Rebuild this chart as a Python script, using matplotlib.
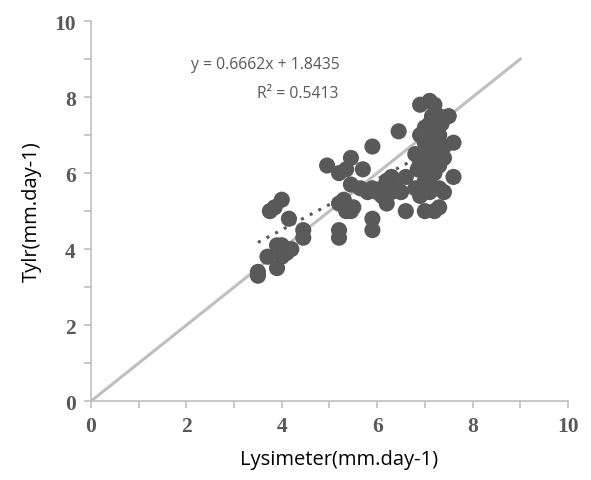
import matplotlib.pyplot as plt
from matplotlib.ticker import MultipleLocator

# lysimeter vs Tylr (mm/day)
lys = [3.5, 3.5, 3.7, 3.9, 3.9, 4.0, 4.1, 4.2, 4.0, 4.1, 3.75, 3.85, 4.0, 4.15, 4.45, 4.45,
       5.2, 5.2, 5.9, 5.9, 4.95, 5.2, 5.45, 5.35, 5.7, 5.45, 5.3, 5.2, 5.5, 5.45, 5.35, 5.9,
       5.65, 5.8, 5.9, 6.0, 6.1, 6.2, 6.3, 6.3, 6.2, 6.1, 6.4, 6.5, 6.6, 6.6, 6.45,
       6.9, 7.1, 7.2, 7.3, 6.9, 7.0, 7.1, 7.2, 7.3, 7.5, 7.0, 7.1, 7.2, 7.3, 7.4, 7.6,
       6.8, 6.9, 7.0, 7.3, 7.4, 7.0, 7.1, 7.2, 7.3, 7.1, 6.8, 6.9, 7.0, 7.3, 7.2, 7.6,
       7.4, 7.05, 6.85, 7.25, 7.15, 7.35, 7.0, 7.2]
tylr = [3.3, 3.4, 3.8, 3.5, 4.1, 3.8, 4.0, 4.0, 4.1, 3.9, 5.0, 5.1, 5.3, 4.8, 4.5, 4.3,
        4.5, 4.3, 4.8, 4.5, 6.2, 6.0, 6.4, 6.1, 6.1, 5.7, 5.3, 5.2, 5.1, 5.0, 5.0, 6.7,
        5.6, 5.5, 5.6, 5.5, 5.6, 5.8, 5.9, 5.5, 5.2, 5.4, 5.6, 5.5, 5.9, 5.0, 7.1,
        7.8, 7.9, 7.8, 7.5, 7.0, 7.2, 7.3, 7.2, 7.0, 7.5, 6.8, 6.6, 6.5, 6.8, 6.7, 6.8,
        6.5, 6.3, 6.2, 6.2, 6.4, 5.8, 5.9, 6.0, 5.6, 5.5, 5.6, 5.4, 5.0, 5.1, 5.0, 5.9,
        5.5, 5.7, 6.1, 7.0, 7.5, 7.3, 6.5, 6.9]

slope = 0.6662
intercept = 1.8435
r2 = 0.5413
one_to_one = [0, 9]

grey = '#595959'
light = '#BFBFBF'

fig = plt.figure(figsize=(5.91, 4.81), dpi=100)
ax = fig.add_axes([0.154, 0.164, 0.807, 0.79])

ax.plot(one_to_one, one_to_one, color=light, lw=2.2, zorder=1)
ax.scatter(lys, tylr, s=135, color=grey, edgecolors='none', zorder=2)

xs = [min(lys), max(lys)]
ax.plot(xs, [slope * v + intercept for v in xs], color=grey, lw=2.2,
        ls=(0, (1, 2.2)), zorder=3)

ax.text(3.65, 8.87, 'y = %.4fx + %.4f' % (slope, intercept), ha='center', va='center',
        color=grey, fontsize=11.3, family='Open Sans')
ax.text(4.33, 8.1, 'R² = %.4f' % r2, ha='center', va='center',
        color=grey, fontsize=11.3, family='Open Sans')

ax.set_xlim(0, 10)
ax.set_ylim(0, 10)
ax.xaxis.set_major_locator(MultipleLocator(2))
ax.xaxis.set_minor_locator(MultipleLocator(1))
ax.yaxis.set_major_locator(MultipleLocator(2))
ax.yaxis.set_minor_locator(MultipleLocator(1))

for s in ['top', 'right']:
    ax.spines[s].set_visible(False)
for s in ['left', 'bottom']:
    ax.spines[s].set_color(light)
    ax.spines[s].set_linewidth(1.2)

ax.tick_params(which='both', direction='out', length=5, color=light, width=1.2)
ax.tick_params(which='major', labelsize=15.5, labelcolor=grey, pad=6)
for lab in ax.get_xticklabels() + ax.get_yticklabels():
    lab.set_family('Liberation Serif')
    lab.set_fontweight('bold')

ax.set_xlabel('Lysimeter(mm.day-1)', fontsize=14.5, family='Open Sans', labelpad=9)
ax.set_ylabel('Tylr(mm.day-1)', fontsize=14.5, family='Open Sans', labelpad=9)
ax.xaxis.set_label_coords(0.52, -0.125)

fig.savefig('out.png', dpi=100)
